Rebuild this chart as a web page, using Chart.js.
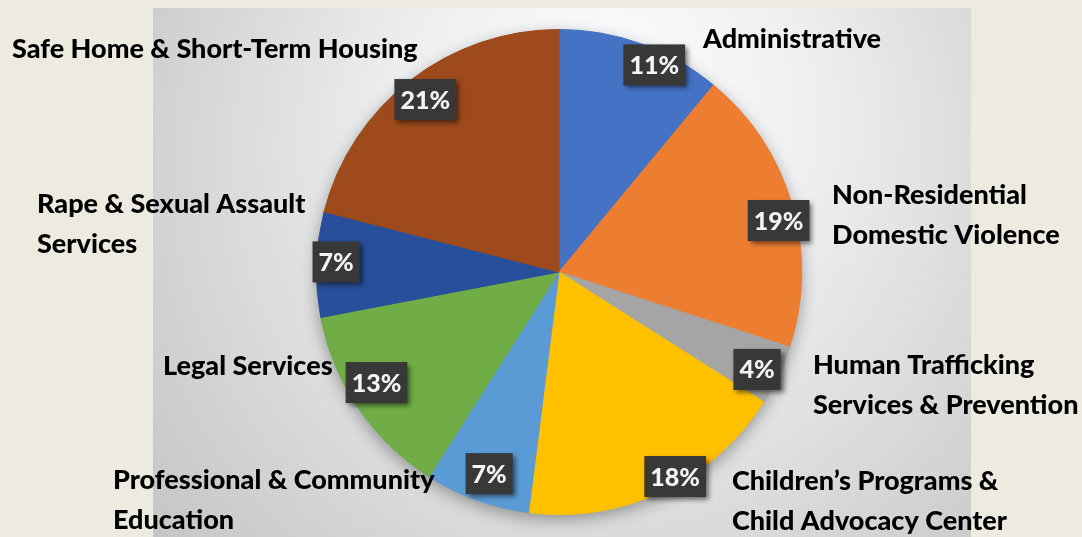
<!DOCTYPE html>
<html>
<head>
<meta charset="utf-8">
<script src="https://cdn.jsdelivr.net/npm/chart.js@4.4.0/dist/chart.umd.min.js"></script>
<style>
  html, body { margin: 0; padding: 0; background: #edebe0; }
  #wrap { width: 1082px; height: 537px; position: relative; }
</style>
</head>
<body>
<div id="wrap"><canvas id="c"></canvas></div>
<script>
// ---- data ----
const categories = [
  ['Administrative'],
  ['Non-Residential', 'Domestic Violence'],
  ['Human Trafficking', 'Services & Prevention'],
  ['Children\u2019s Programs &', 'Child Advocacy Center'],
  ['Professional & Community', 'Education'],
  ['Legal Services'],
  ['Rape & Sexual Assault', 'Services'],
  ['Safe Home & Short-Term Housing']
];
const values = [11, 19, 4, 18, 7, 13, 7, 21];
const colors = ['#4472c4', '#ed7d31', '#a5a5a5', '#ffc000', '#5b9bd5', '#70ad47', '#274f9b', '#9e4a1c'];

// ---- layout (styles / positions of text, not data) ----
// percent box: [fraction of radius, angle shift in degrees]
const boxLayout = [[0.94, 4.9], [0.93, 3], [0.91, 1], [0.97, -4.4], [0.88, -0.7], [0.88, 3], [0.92, 0.8], [0.90, 0]];
// category text: [left x, first baseline y]
const textLayout = [[703, 48], [832, 204], [813, 374], [732, 490], [113, 489], [163, 375], [37, 213], [12, 58]];
const lineGap = 40;

const decor = {
  id: 'decor',
  beforeDraw(chart) {
    const ctx = chart.ctx;
    ctx.save();
    ctx.fillStyle = '#edebe0';
    ctx.fillRect(0, 0, chart.width, chart.height);
    const g = ctx.createRadialGradient(610, 70, 10, 610, 200, 560);
    g.addColorStop(0, '#fbfcfe');
    g.addColorStop(0.35, '#eeeff1');
    g.addColorStop(0.7, '#d9d9d9');
    g.addColorStop(1, '#c6c6c6');
    ctx.fillStyle = g;
    ctx.fillRect(153, 8, 818, 529);
    ctx.restore();
  },
  beforeDatasetsDraw(chart) {
    const ctx = chart.ctx;
    const a = chart.getDatasetMeta(0).data[0];
    ctx.save();
    ctx.shadowColor = 'rgba(0,0,0,0.35)';
    ctx.shadowBlur = 16;
    ctx.shadowOffsetY = 5;
    ctx.beginPath();
    ctx.arc(a.x, a.y, a.outerRadius, 0, Math.PI * 2);
    ctx.fillStyle = '#9a9a9a';
    ctx.fill();
    ctx.restore();
  },
  afterDatasetsDraw(chart) {
    const ctx = chart.ctx;
    const meta = chart.getDatasetMeta(0);
    ctx.save();
    // percent boxes
    ctx.font = '900 25px Lato';
    ctx.textAlign = 'center';
    ctx.textBaseline = 'middle';
    meta.data.forEach((el, i) => {
      const p = el.getProps(['x', 'y', 'startAngle', 'endAngle', 'outerRadius'], true);
      const ang = (p.startAngle + p.endAngle) / 2 + boxLayout[i][1] * Math.PI / 180;
      const r = p.outerRadius * boxLayout[i][0];
      const cx = p.x + Math.cos(ang) * r;
      const cy = p.y + Math.sin(ang) * r;
      const txt = values[i] + '%';
      const w = ctx.measureText(txt).width + 12;
      const h = 41;
      ctx.save();
      ctx.shadowColor = 'rgba(0,0,0,0.55)';
      ctx.shadowBlur = 5;
      ctx.shadowOffsetX = 3;
      ctx.shadowOffsetY = 3;
      ctx.fillStyle = '#383838';
      ctx.fillRect(cx - w / 2, cy - h / 2, w, h);
      ctx.restore();
      ctx.fillStyle = '#f4f4f4';
      ctx.fillText(txt, cx, cy + 1);
    });
    // category labels
    ctx.font = '900 27px Lato';
    ctx.textAlign = 'left';
    ctx.textBaseline = 'alphabetic';
    ctx.fillStyle = '#000000';
    categories.forEach((lines, i) => {
      lines.forEach((ln, j) => {
        ctx.fillText(ln, textLayout[i][0], textLayout[i][1] + j * lineGap);
      });
    });
    ctx.restore();
  }
};

new Chart(document.getElementById('c'), {
  type: 'pie',
  data: {
    labels: categories,
    datasets: [{
      data: values,
      backgroundColor: colors,
      borderColor: colors,
      borderWidth: 1
    }]
  },
  options: {
    responsive: true,
    maintainAspectRatio: false,
    animation: false,
    layout: { padding: { top: 29, bottom: 22, left: 36, right: 0 } },
    plugins: {
      legend: { display: false },
      tooltip: { enabled: false }
    }
  },
  plugins: [decor]
});
</script>
</body>
</html>
